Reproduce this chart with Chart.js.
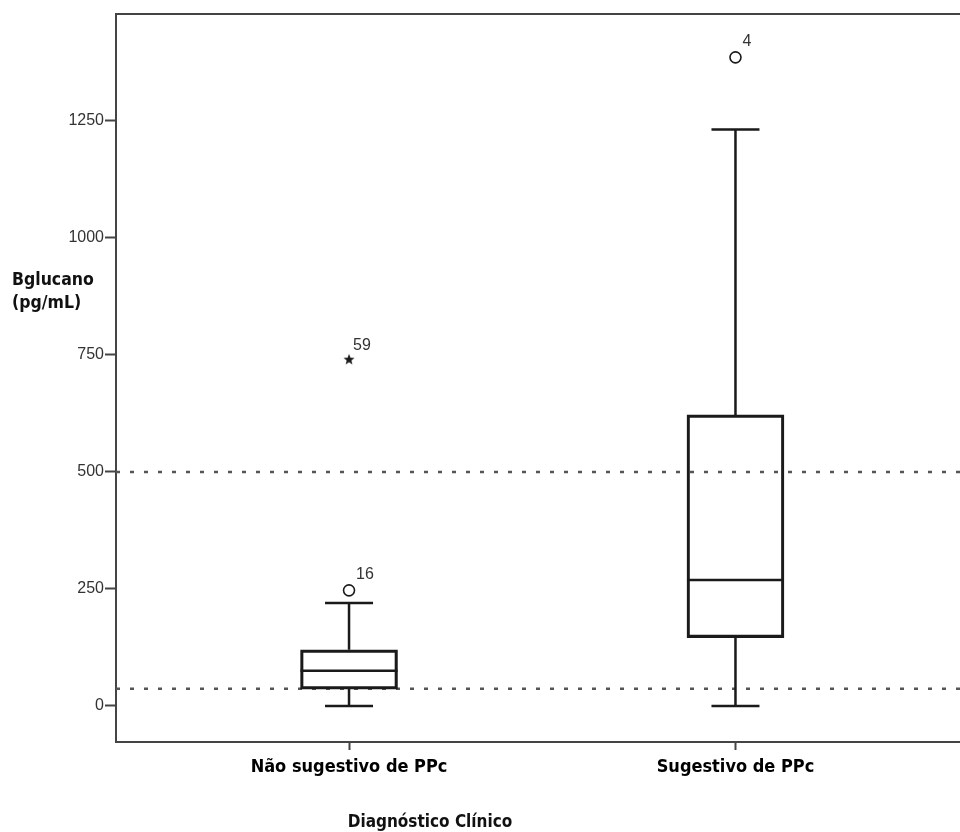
<!DOCTYPE html>
<html>
<head>
<meta charset="utf-8">
<script src="https://cdn.jsdelivr.net/npm/chart.js@4/dist/chart.umd.min.js"></script>
<style>
html,body{margin:0;padding:0;background:#fff;}
canvas{display:block;}
</style>
</head>
<body>
<canvas id="c" width="960" height="832"></canvas>
<script>
// ---- data ----
const categories = ["Não sugestivo de PPc", "Sugestivo de PPc"];
const whiskerLow = [0, 0];
const q1 = [36, 146];
const median = [75, 269];
const q3 = [120, 622];
const whiskerHigh = [220, 1232];
const outlierCategory = [0, 1];
const outlierValues = [247, 1386];
const outlierLabels = ["16", "4"];
const extremeCategory = [0];
const extremeValues = [740];
const extremeLabels = ["59"];
const referenceLines = [500, 37];
const yTicks = [0, 250, 500, 750, 1000, 1250];
const yAxisTitle = ["Bglucano", "(pg/mL)"];
const xAxisTitle = "Diagnóstico Clínico";

// ---- layout/style ----
const X_MIN = -0.603, X_MAX = 1.581;
const Y_MIN = -77, Y_MAX = 1478.6;
const NARROW = '"Liberation Sans Narrow", "Arial Narrow", "DejaVu Sans Condensed", Arial, sans-serif';
const INK = '#1a1a1a';
const BOX_W = 97, CAP_HALF = 24;

// filled 5-point star marker
function makeStar(r) {
  const c = document.createElement('canvas');
  const s = Math.ceil(r * 2 + 2);
  c.width = s; c.height = s;
  const g = c.getContext('2d');
  g.fillStyle = INK;
  g.beginPath();
  for (let k = 0; k < 10; k++) {
    const rad = k % 2 === 0 ? r : r * 0.42;
    const a = -Math.PI / 2 + k * Math.PI / 5;
    const px = s / 2 + rad * Math.cos(a), py = s / 2 + rad * Math.sin(a);
    k === 0 ? g.moveTo(px, py) : g.lineTo(px, py);
  }
  g.closePath();
  g.fill();
  return c;
}
const starImg = makeStar(5.8);

const boxPlugin = {
  id: 'boxParts',
  afterDatasetsDraw(chart) {
    const {ctx, chartArea, scales: {x, y}} = chart;
    ctx.save();
    // top frame line
    ctx.strokeStyle = '#444';
    ctx.lineWidth = 2;
    ctx.beginPath();
    ctx.moveTo(chartArea.left - 1, chartArea.top);
    ctx.lineTo(chartArea.right, chartArea.top);
    ctx.stroke();

    ctx.strokeStyle = INK;
    ctx.lineWidth = 2.5;
    categories.forEach((c, i) => {
      const cx = x.getPixelForValue(i);
      const yMed = y.getPixelForValue(median[i]);
      const yQ1 = y.getPixelForValue(q1[i]);
      const yQ3 = y.getPixelForValue(q3[i]);
      const yLo = y.getPixelForValue(whiskerLow[i]);
      const yHi = y.getPixelForValue(whiskerHigh[i]);
      ctx.beginPath();
      ctx.moveTo(cx - BOX_W / 2, yMed); ctx.lineTo(cx + BOX_W / 2, yMed);
      ctx.moveTo(cx, yQ3); ctx.lineTo(cx, yHi);
      ctx.moveTo(cx, yQ1); ctx.lineTo(cx, yLo);
      ctx.moveTo(cx - CAP_HALF, yHi); ctx.lineTo(cx + CAP_HALF, yHi);
      ctx.moveTo(cx - CAP_HALF, yLo); ctx.lineTo(cx + CAP_HALF, yLo);
      ctx.stroke();
    });

    // point labels
    ctx.fillStyle = '#333';
    ctx.font = '16px Arial, "Liberation Sans", sans-serif';
    ctx.textAlign = 'left';
    ctx.textBaseline = 'alphabetic';
    outlierValues.forEach((v, k) => {
      ctx.fillText(outlierLabels[k], x.getPixelForValue(outlierCategory[k]) + 7, y.getPixelForValue(v) - 11);
    });
    extremeValues.forEach((v, k) => {
      ctx.fillText(extremeLabels[k], x.getPixelForValue(extremeCategory[k]) + 4, y.getPixelForValue(v) - 10);
    });

    // axis titles
    ctx.fillStyle = '#111';
    ctx.font = 'bold 17.5px ' + NARROW;
    ctx.fillText(yAxisTitle[0], 12, 285);
    ctx.fillText(yAxisTitle[1], 12, 308);
    ctx.textAlign = 'center';
    ctx.font = 'bold 17px ' + NARROW;
    ctx.fillText(xAxisTitle, 430, 827);
    ctx.restore();
  }
};

new Chart(document.getElementById('c'), {
  type: 'bar',
  data: {
    datasets: [
      {
        type: 'bar',
        data: categories.map((c, i) => ({x: i, y: [q1[i], q3[i]]})),
        backgroundColor: 'rgba(255,255,255,0)',
        borderColor: INK,
        borderWidth: 2.5,
        borderSkipped: false,
        barThickness: BOX_W,
        order: 1
      },
      ...referenceLines.map(v => ({
        type: 'line',
        data: [{x: X_MIN, y: v}, {x: X_MAX, y: v}],
        borderColor: '#555',
        borderWidth: 2.5,
        borderDash: [4, 10],
        pointRadius: 0,
        fill: false,
        order: 2
      })),
      {
        type: 'scatter',
        data: outlierValues.map((v, k) => ({x: outlierCategory[k], y: v})),
        pointStyle: 'circle',
        pointRadius: 5.5,
        borderColor: INK,
        backgroundColor: '#fff',
        borderWidth: 1.6,
        order: 0
      },
      {
        type: 'scatter',
        data: extremeValues.map((v, k) => ({x: extremeCategory[k], y: v})),
        pointStyle: starImg,
        pointRadius: 6,
        order: 0
      }
    ]
  },
  options: {
    responsive: false,
    animation: false,
    devicePixelRatio: 1,
    layout: {autoPadding: false, padding: {top: 14, left: 0, right: 0, bottom: 0}},
    plugins: {legend: {display: false}, tooltip: {enabled: false}},
    scales: {
      x: {
        type: 'linear',
        offset: false,
        min: X_MIN, max: X_MAX,
        afterBuildTicks: s => { s.ticks = categories.map((c, i) => ({value: i})); },
        ticks: {
          callback: v => categories[v],
          color: '#000',
          font: {family: NARROW, size: 18, weight: 'bold'},
          padding: 7,
          autoSkip: false,
          maxRotation: 0
        },
        grid: {offset: false, drawOnChartArea: false, drawTicks: true, tickLength: 8, tickColor: '#444', tickWidth: 2},
        border: {display: true, color: '#444', width: 2},
        afterFit: s => { s.height = 90; s.paddingLeft = 0; s.paddingRight = 0; }
      },
      y: {
        min: Y_MIN, max: Y_MAX,
        afterBuildTicks: s => { s.ticks = yTicks.map(v => ({value: v})); },
        ticks: {
          callback: v => String(v),
          color: '#333', font: {family: 'Arial, "Liberation Sans", sans-serif', size: 16}, padding: 1
        },
        grid: {drawOnChartArea: false, drawTicks: true, tickLength: 11, tickColor: '#444', tickWidth: 2},
        border: {display: true, color: '#444', width: 2},
        afterFit: s => { s.width = 116; s.paddingTop = 0; s.paddingBottom = 0; }
      }
    }
  },
  plugins: [boxPlugin]
});
</script>
</body>
</html>
